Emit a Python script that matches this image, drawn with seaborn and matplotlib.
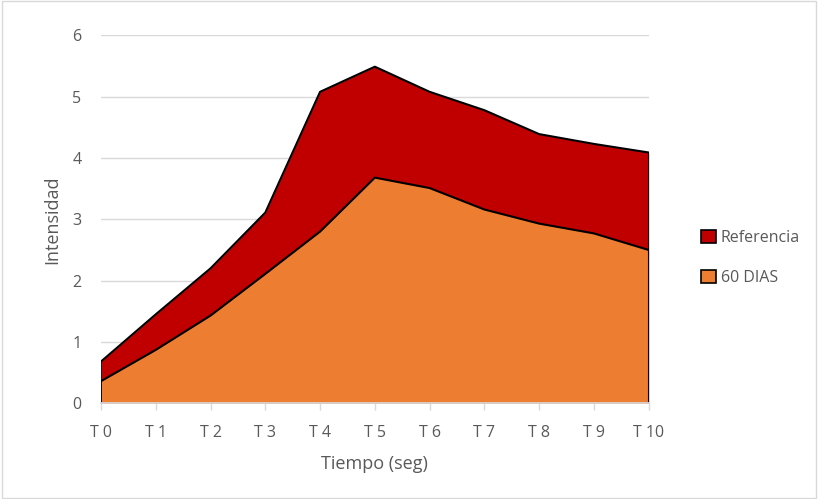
import matplotlib
matplotlib.use("Agg")
import matplotlib.pyplot as plt
import seaborn as sns
import pandas as pd
import numpy as np
from matplotlib.patches import Patch, Rectangle

categories = ["T 0", "T 1", "T 2", "T 3", "T 4", "T 5", "T 6", "T 7", "T 8", "T 9", "T 10"]
referencia = [0.68, 1.45, 2.20, 3.11, 5.08, 5.49, 5.08, 4.78, 4.39, 4.23, 4.09]
dias60 = [0.36, 0.87, 1.43, 2.11, 2.80, 3.68, 3.51, 3.16, 2.93, 2.77, 2.50]
yticks = [0, 1, 2, 3, 4, 5, 6]

sns.set_theme(style="white")
plt.rcParams['font.family'] = ['Open Sans', 'DejaVu Sans']

fig = plt.figure(figsize=(8.18, 4.99), dpi=100)
ax = fig.add_axes([0.1235, 0.192, 0.793 - 0.1235, 0.929 - 0.192])

x = np.arange(len(categories))
df = pd.DataFrame({"x": x, "Referencia": referencia, "60 DIAS": dias60})

gray = "#595959"
for yv in yticks[1:]:
    ax.axhline(yv, color="#d9d9d9", lw=1, zorder=0)

series = [("Referencia", "#c00000"), ("60 DIAS", "#ed7d31")]
for i, (name, col) in enumerate(series):
    z = 2 + i * 2
    ax.fill_between(df["x"], 0, df[name], color=col, lw=0, zorder=z)
    sns.lineplot(data=df, x="x", y=name, ax=ax, color="black", lw=1.5, zorder=z + 1, legend=False)
    ax.plot([df["x"].iloc[0]] * 2, [0, df[name].iloc[0]], color="black", lw=1.2, zorder=z + 1)
    ax.plot([df["x"].iloc[-1]] * 2, [0, df[name].iloc[-1]], color="black", lw=1.5, zorder=z + 1)

ax.set_xlim(0, len(categories) - 1)
ax.set_ylim(0, 6)
ax.set_xticks(x)
ax.set_xticklabels(categories)
ax.set_yticks(yticks)
ax.set_yticklabels([str(v) for v in yticks])
ax.tick_params(axis="x", colors=gray, labelsize=11.5, length=5, width=1, color="#d9d9d9", pad=11, direction="out", bottom=True)
ax.tick_params(axis="y", colors=gray, labelsize=11.5, length=0, pad=14)
for s in ["top", "right", "left"]:
    ax.spines[s].set_visible(False)
ax.spines["bottom"].set_color("#d9d9d9")
ax.spines["bottom"].set_zorder(10)

ax.set_xlabel("Tiempo (seg)", color=gray, fontsize=13, labelpad=10)
ax.set_ylabel("Intensidad", color=gray, fontsize=13, labelpad=8)

handles = [Patch(facecolor=c, edgecolor="black", lw=1.2, label=n) for n, c in series]
fig.legend(handles=handles, loc="center left", bbox_to_anchor=(0.84, 0.483), frameon=False,
           fontsize=11.5, labelcolor=gray, handlelength=0.9, handleheight=0.9, handletextpad=0.3,
           labelspacing=1.5)

fig.patches.append(Rectangle((0.002, 0.003), 0.996, 0.994, transform=fig.transFigure,
                             fill=False, edgecolor="#d9d9d9", lw=1))

fig.savefig("out.png", dpi=100)
